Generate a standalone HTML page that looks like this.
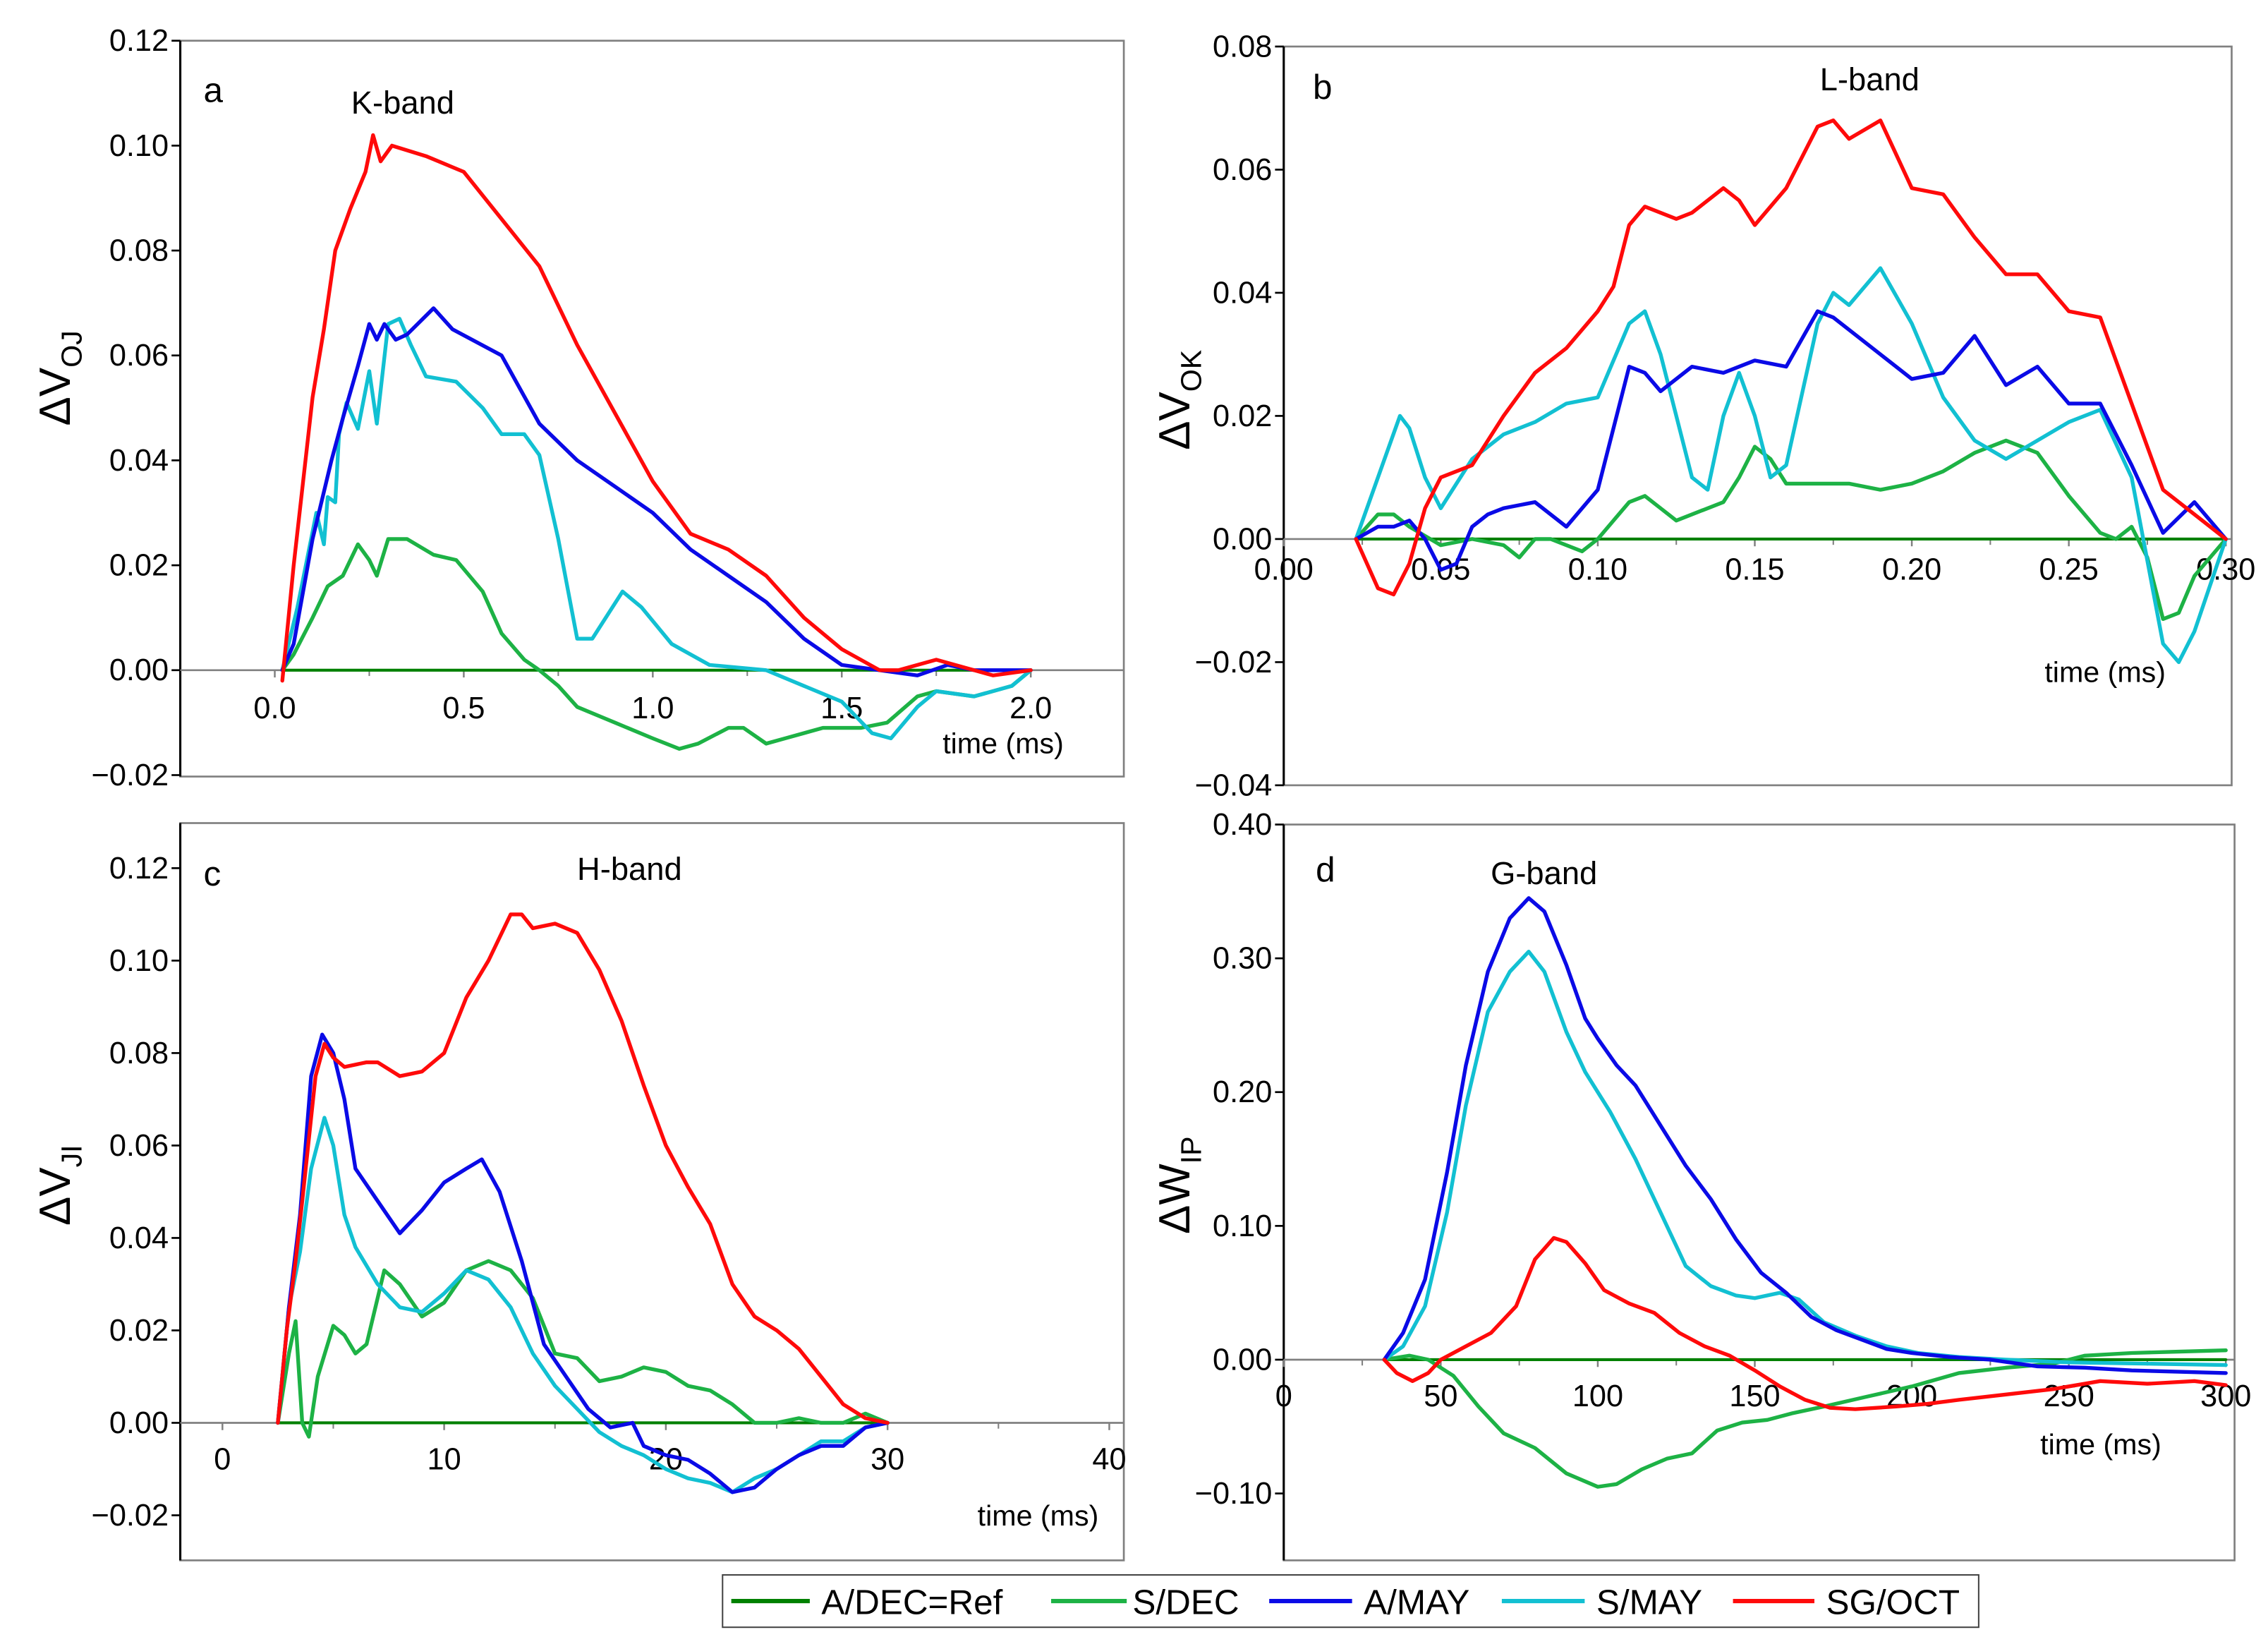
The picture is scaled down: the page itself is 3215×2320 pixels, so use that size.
<!DOCTYPE html>
<html><head><meta charset="utf-8"><style>
html,body{margin:0;padding:0;background:#fff;}
svg{display:block;font-family:"Liberation Sans",Arial,sans-serif;}
</style></head><body>
<svg id="fig" width="3215" height="2320" viewBox="0 0 1560 1125.7" preserveAspectRatio="none" xmlns="http://www.w3.org/2000/svg">
<g id="legend">
<rect x="497" y="1083" width="864" height="36" fill="#fff" stroke="#444" stroke-width="1"/>
<line x1="503" y1="1101" x2="557" y2="1101" stroke="#008000" stroke-width="3"/>
<text x="565" y="1110" font-size="24">A/DEC=Ref</text>
<line x1="723" y1="1101" x2="775" y2="1101" stroke="#1db245" stroke-width="3"/>
<text x="779" y="1110" font-size="24">S/DEC</text>
<line x1="873" y1="1101" x2="930" y2="1101" stroke="#0a0ae6" stroke-width="3"/>
<text x="938" y="1110" font-size="24">A/MAY</text>
<line x1="1033" y1="1101" x2="1090" y2="1101" stroke="#12c0d2" stroke-width="3"/>
<text x="1098" y="1110" font-size="24">S/MAY</text>
<line x1="1192" y1="1101" x2="1248" y2="1101" stroke="#ff0a0a" stroke-width="3"/>
<text x="1256" y="1110" font-size="24">SG/OCT</text>
</g>
</svg>
<script>
// ---------- Panel a (K-band) ----------
const aRefX=[0.02,2.0]; const aRefY=[0,0];
const aSdecX=[0.02,0.05,0.1,0.14,0.18,0.22,0.25,0.27,0.3,0.35,0.42,0.48,0.55,0.6,0.66,0.7,0.75,0.8,0.9,1.0,1.07,1.12,1.2,1.24,1.3,1.35,1.45,1.55,1.62,1.7,1.75,1.85,1.95,2.0];
const aSdecY=[0,0.003,0.01,0.016,0.018,0.024,0.021,0.018,0.025,0.025,0.022,0.021,0.015,0.007,0.002,0,-0.003,-0.007,-0.01,-0.013,-0.015,-0.014,-0.011,-0.011,-0.014,-0.013,-0.011,-0.011,-0.01,-0.005,-0.004,-0.005,-0.003,0];
const aAmayX=[0.02,0.05,0.1,0.15,0.18,0.22,0.25,0.27,0.29,0.32,0.35,0.42,0.47,0.6,0.7,0.8,0.9,1.0,1.1,1.2,1.3,1.4,1.5,1.6,1.7,1.78,1.85,2.0];
const aAmayY=[0,0.005,0.025,0.04,0.048,0.058,0.066,0.063,0.066,0.063,0.064,0.069,0.065,0.06,0.047,0.04,0.035,0.03,0.023,0.018,0.013,0.006,0.001,0,-0.001,0.001,0,0];
const aSmayX=[0.02,0.06,0.11,0.13,0.14,0.16,0.17,0.19,0.22,0.25,0.27,0.3,0.33,0.36,0.4,0.48,0.55,0.6,0.66,0.7,0.75,0.8,0.84,0.92,0.97,1.05,1.15,1.3,1.4,1.5,1.58,1.63,1.7,1.75,1.85,1.95,2.0];
const aSmayY=[0,0.012,0.03,0.024,0.033,0.032,0.045,0.051,0.046,0.057,0.047,0.066,0.067,0.062,0.056,0.055,0.05,0.045,0.045,0.041,0.025,0.006,0.006,0.015,0.012,0.005,0.001,0,-0.003,-0.006,-0.012,-0.013,-0.007,-0.004,-0.005,-0.003,0];
const aSgoctX=[0.02,0.05,0.1,0.13,0.16,0.2,0.24,0.26,0.28,0.31,0.4,0.5,0.6,0.7,0.8,0.9,1.0,1.1,1.2,1.3,1.4,1.5,1.6,1.65,1.75,1.85,1.9,2.0];
const aSgoctY=[-0.002,0.02,0.052,0.065,0.08,0.088,0.095,0.102,0.097,0.1,0.098,0.095,0.086,0.077,0.062,0.049,0.036,0.026,0.023,0.018,0.01,0.004,0,0,0.002,0,-0.001,0];
const aYTicks=["0.12","0.10","0.08","0.06","0.04","0.02","0.00","\u22120.02"];
const aXTicks=["0.0","0.5","1.0","1.5","2.0"];

// ---------- Panel b (L-band) ----------
const bRefX=[0.023,0.3]; const bRefY=[0,0];
const bSdecX=[0.023,0.03,0.035,0.04,0.05,0.06,0.07,0.075,0.08,0.085,0.095,0.1,0.11,0.115,0.12,0.125,0.13,0.14,0.145,0.15,0.155,0.16,0.17,0.18,0.19,0.2,0.21,0.22,0.23,0.24,0.25,0.26,0.265,0.27,0.275,0.28,0.285,0.29,0.3];
const bSdecY=[0,0.004,0.004,0.002,-0.001,0,-0.001,-0.003,0,0,-0.002,0,0.006,0.007,0.005,0.003,0.004,0.006,0.01,0.015,0.013,0.009,0.009,0.009,0.008,0.009,0.011,0.014,0.016,0.014,0.007,0.001,0,0.002,-0.003,-0.013,-0.012,-0.006,0];
const bAmayX=[0.023,0.03,0.035,0.04,0.045,0.05,0.055,0.06,0.065,0.07,0.08,0.09,0.1,0.11,0.115,0.12,0.13,0.14,0.15,0.16,0.17,0.175,0.19,0.2,0.21,0.22,0.23,0.24,0.25,0.26,0.27,0.28,0.29,0.3];
const bAmayY=[0,0.002,0.002,0.003,0,-0.005,-0.004,0.002,0.004,0.005,0.006,0.002,0.008,0.028,0.027,0.024,0.028,0.027,0.029,0.028,0.037,0.036,0.03,0.026,0.027,0.033,0.025,0.028,0.022,0.022,0.012,0.001,0.006,0];
const bSmayX=[0.023,0.03,0.037,0.04,0.045,0.05,0.06,0.07,0.08,0.09,0.1,0.11,0.115,0.12,0.13,0.135,0.14,0.145,0.15,0.155,0.16,0.17,0.175,0.18,0.19,0.2,0.21,0.22,0.23,0.24,0.25,0.26,0.27,0.28,0.285,0.29,0.3];
const bSmayY=[0,0.01,0.02,0.018,0.01,0.005,0.013,0.017,0.019,0.022,0.023,0.035,0.037,0.03,0.01,0.008,0.02,0.027,0.02,0.01,0.012,0.035,0.04,0.038,0.044,0.035,0.023,0.016,0.013,0.016,0.019,0.021,0.01,-0.017,-0.02,-0.015,0];
const bSgoctX=[0.023,0.03,0.035,0.04,0.045,0.05,0.06,0.07,0.08,0.09,0.1,0.105,0.11,0.115,0.125,0.13,0.14,0.145,0.15,0.16,0.17,0.175,0.18,0.19,0.2,0.21,0.22,0.23,0.24,0.25,0.26,0.27,0.28,0.29,0.3];
const bSgoctY=[0,-0.008,-0.009,-0.004,0.005,0.01,0.012,0.02,0.027,0.031,0.037,0.041,0.051,0.054,0.052,0.053,0.057,0.055,0.051,0.057,0.067,0.068,0.065,0.068,0.057,0.056,0.049,0.043,0.043,0.037,0.036,0.022,0.008,0.004,0];
const bYTicks=["0.08","0.06","0.04","0.02","0.00","\u22120.02","\u22120.04"];
const bXTicks=["0.00","0.05","0.10","0.15","0.20","0.25","0.30"];

// ---------- Panel c (H-band) ----------
const cRefX=[2.5,30]; const cRefY=[0,0];
const cSdecX=[2.5,3,3.3,3.6,3.9,4.3,5,5.5,6,6.5,7.3,8,9,10,11,12,13,14,15,16,17,18,19,20,21,22,23,24,25,26,27,28,29,30];
const cSdecY=[0,0.015,0.022,0,-0.003,0.01,0.021,0.019,0.015,0.017,0.033,0.03,0.023,0.026,0.033,0.035,0.033,0.027,0.015,0.014,0.009,0.01,0.012,0.011,0.008,0.007,0.004,0,0,0.001,0,0,0.002,0];
const cAmayX=[2.5,3,3.5,4,4.5,5,5.5,6,7,8,9,10,11,11.7,12.5,13.5,14.5,15.5,16.5,17.5,18.5,19,20,21,22,23,24,25,26,27,28,29,30];
const cAmayY=[0,0.025,0.045,0.075,0.084,0.08,0.07,0.055,0.048,0.041,0.046,0.052,0.055,0.057,0.05,0.035,0.017,0.01,0.003,-0.001,0,-0.005,-0.007,-0.008,-0.011,-0.015,-0.014,-0.01,-0.007,-0.005,-0.005,-0.001,0];
const cSmayX=[2.5,3,3.5,4,4.6,5,5.5,6,7,8,9,10,11,12,13,14,15,16,17,18,19,20,21,22,23,24,25,26,27,28,29,30];
const cSmayY=[0,0.025,0.037,0.055,0.066,0.06,0.045,0.038,0.03,0.025,0.024,0.028,0.033,0.031,0.025,0.015,0.008,0.003,-0.002,-0.005,-0.007,-0.01,-0.012,-0.013,-0.015,-0.012,-0.01,-0.007,-0.004,-0.004,-0.001,0];
const cSgoctX=[2.5,2.9,3.3,3.6,4.2,4.6,5,5.5,6.5,7,8,9,10,11,12,13,13.5,14,15,16,17,18,19,20,21,22,23,24,25,26,27,28,29,30];
const cSgoctY=[0,0.02,0.035,0.048,0.075,0.082,0.079,0.077,0.078,0.078,0.075,0.076,0.08,0.092,0.1,0.11,0.11,0.107,0.108,0.106,0.098,0.087,0.073,0.06,0.051,0.043,0.03,0.023,0.02,0.016,0.01,0.004,0.001,0];
const cYTicks=["0.12","0.10","0.08","0.06","0.04","0.02","0.00","\u22120.02"];
const cXTicks=["0","10","20","30","40"];

// ---------- Panel d (G-band) ----------
const dRefX=[32,300]; const dRefY=[0,0];
const dSdecX=[32,40,46,54,62,70,80,90,100,106,114,122,130,138,146,154,162,172,185,200,215,230,245,255,270,285,300];
const dSdecY=[0,0.003,0,-0.012,-0.035,-0.055,-0.066,-0.085,-0.095,-0.093,-0.082,-0.074,-0.07,-0.053,-0.047,-0.045,-0.04,-0.035,-0.028,-0.02,-0.01,-0.006,-0.003,0.003,0.005,0.006,0.007];
const dAmayX=[32,38,45,52,58,65,72,78,83,90,96,100,106,112,120,128,136,144,152,160,168,176,184,192,200,212,225,240,255,270,285,300];
const dAmayY=[0,0.02,0.06,0.14,0.22,0.29,0.33,0.345,0.335,0.295,0.255,0.24,0.22,0.205,0.175,0.145,0.12,0.09,0.065,0.05,0.032,0.022,0.015,0.008,0.005,0.002,0,-0.005,-0.006,-0.008,-0.009,-0.01];
const dSmayX=[32,38,45,52,58,65,72,78,83,90,96,104,112,120,128,136,144,150,158,164,172,182,192,202,215,230,250,300];
const dSmayY=[0,0.01,0.04,0.11,0.19,0.26,0.29,0.305,0.29,0.245,0.215,0.185,0.15,0.11,0.07,0.055,0.048,0.046,0.05,0.045,0.028,0.018,0.01,0.005,0.002,0,-0.002,-0.004];
const dSgoctX=[32,36,41,46,50,58,66,74,80,86,90,96,102,110,118,126,134,142,150,158,166,174,182,195,205,215,230,245,260,275,290,300];
const dSgoctY=[0,-0.01,-0.016,-0.01,0,0.01,0.02,0.04,0.075,0.091,0.088,0.072,0.052,0.042,0.035,0.02,0.01,0.003,-0.008,-0.02,-0.03,-0.036,-0.037,-0.035,-0.033,-0.03,-0.026,-0.022,-0.016,-0.018,-0.016,-0.019];
const dYTicks=["0.40","0.30","0.20","0.10","0.00","\u22120.10"];
const dXTicks=["0","50","100","150","200","250","300"];

const NS="http://www.w3.org/2000/svg";
const svg=document.getElementById('fig');
const COL={ref:'#008000',sdec:'#1db245',amay:'#0a0ae6',smay:'#12c0d2',sgoct:'#ff0a0a'};

function mk(tag,attrs,parent){const e=document.createElementNS(NS,tag);for(const k in attrs)e.setAttribute(k,attrs[k]);(parent||svg).appendChild(e);return e;}

function panel(p){
  const g=mk('g',{});
  
  
  const sx=v=>p.xA+(v-p.x0)/(p.x1-p.x0)*(p.xR-p.xA);
  const sy=v=>p.yA+(p.yAv-v)/(p.yAv-p.yBv)*(p.yB-p.yA);
  const frame=mk('rect',{x:p.L,y:p.T,width:p.R-p.L,height:p.B-p.T,fill:'none',stroke:'#808080','stroke-width':1.3},g);
  
  
  const yax=mk('line',{x1:p.L,y1:p.T,x2:p.L,y2:p.B,stroke:'#000','stroke-width':1.5},g);
  
  
  p.yTicks.forEach((t,i)=>{
    const v=p.yAv-i*p.yStep; const y=sy(v);
    mk('line',{x1:p.L-6,y1:y,x2:p.L,y2:y,stroke:'#000','stroke-width':1.3},g);
    const tx=mk('text',{x:p.L-8,y:y+7,'font-size':21,'text-anchor':'end'},g);
    tx.textContent=t;
    
    
  });
  const y0=sy(0);
  const xax=mk('line',{x1:p.L,y1:y0,x2:p.R,y2:y0,stroke:'#808080','stroke-width':1.3},g);
  
  
  p.xTicks.forEach((t,i)=>{
    const v=p.x0+i*p.xStep; const x=sx(v);
    mk('line',{x1:x,y1:y0,x2:x,y2:y0+5,stroke:'#808080','stroke-width':1.2},g);
    const mx=sx(v+p.xStep/2); if(mx<p.R) mk('line',{x1:mx,y1:y0,x2:mx,y2:y0+4,stroke:'#808080','stroke-width':1},g);
    const tx=mk('text',{x:x,y:y0+p.xLabOff,'font-size':21,'text-anchor':'middle'},g);
    tx.textContent=t;
    
    
  });
  const xt=mk('text',{x:p.tx,y:p.ty,'font-size':20,'text-anchor':'middle'},g);
  xt.textContent='time (ms)';
  
  
  const lt=mk('text',{x:p.lx,y:p.ly,'font-size':24},g);
  lt.textContent=p.id;
  
  
  const bt=mk('text',{x:p.bx,y:p.by,'font-size':22,'text-anchor':'middle'},g);
  bt.textContent=p.band;
  
  
  const yt=mk('text',{transform:`translate(${p.yx},${p.yy}) rotate(-90)`,'font-size':30,'text-anchor':'middle'},g);
  yt.innerHTML='\u0394'+(p.sym||'V')+'<tspan font-size="20" dy="8">'+p.sub+'</tspan>';
  
  
  p.series.forEach(s=>{
    const pts=s.x.map((xv,i)=>sx(xv).toFixed(2)+','+sy(s.y[i]).toFixed(2)).join(' ');
    const pl=mk('polyline',{points:pts,fill:'none',stroke:COL[s.k],'stroke-width':s.k==='ref'?2:2.6,'stroke-linejoin':'round','stroke-linecap':'round'},g);
    
    
  });
}

panel({id:'a',band:'K-band',sub:'OJ',L:124,T:28,R:773,B:534,x0:0,x1:2,xA:189,xR:709,yAv:0.12,yA:28,yBv:-0.02,yB:533,yStep:0.02,xStep:0.5,
  yTicks:aYTicks,xTicks:aXTicks,xLabOff:33,tx:690,ty:518,lx:140,ly:70,bx:277,by:78,yx:48,yy:260,
  series:[{k:'ref',x:aRefX,y:aRefY},{k:'sdec',x:aSdecX,y:aSdecY},{k:'smay',x:aSmayX,y:aSmayY},{k:'amay',x:aAmayX,y:aAmayY},{k:'sgoct',x:aSgoctX,y:aSgoctY}]});
panel({id:'b',band:'L-band',sub:'OK',L:883,T:32,R:1535,B:540,x0:0,x1:0.3,xA:883,xR:1531,yAv:0.08,yA:32,yBv:-0.04,yB:540,yStep:0.02,xStep:0.05,
  yTicks:bYTicks,xTicks:bXTicks,xLabOff:28,tx:1448,ty:469,lx:903,ly:68,bx:1286,by:62,yx:818,yy:275,
  series:[{k:'ref',x:bRefX,y:bRefY},{k:'sdec',x:bSdecX,y:bSdecY},{k:'smay',x:bSmayX,y:bSmayY},{k:'amay',x:bAmayX,y:bAmayY},{k:'sgoct',x:bSgoctX,y:bSgoctY}]});
panel({id:'c',band:'H-band',sub:'JI',L:124,T:566,R:773,B:1073,x0:0,x1:40,xA:153,xR:763,yAv:0.12,yA:597,yBv:-0.02,yB:1042,yStep:0.02,xStep:10,
  yTicks:cYTicks,xTicks:cXTicks,xLabOff:32,tx:714,ty:1049,lx:140,ly:609,bx:433,by:605,yx:48,yy:815,
  series:[{k:'ref',x:cRefX,y:cRefY},{k:'sdec',x:cSdecX,y:cSdecY},{k:'smay',x:cSmayX,y:cSmayY},{k:'amay',x:cAmayX,y:cAmayY},{k:'sgoct',x:cSgoctX,y:cSgoctY}]});
panel({id:'d',band:'G-band',sub:'IP',sym:'W',L:883,T:567,R:1537,B:1073,x0:0,x1:300,xA:883,xR:1531,yAv:0.40,yA:567,yBv:-0.10,yB:1027,yStep:0.10,xStep:50,
  yTicks:dYTicks,xTicks:dXTicks,xLabOff:32,tx:1445,ty:1000,lx:905,ly:606,bx:1062,by:608,yx:818,yy:815,
  series:[{k:'ref',x:dRefX,y:dRefY},{k:'sdec',x:dSdecX,y:dSdecY},{k:'smay',x:dSmayX,y:dSmayY},{k:'amay',x:dAmayX,y:dAmayY},{k:'sgoct',x:dSgoctX,y:dSgoctY}]});
</script>
</body></html>
